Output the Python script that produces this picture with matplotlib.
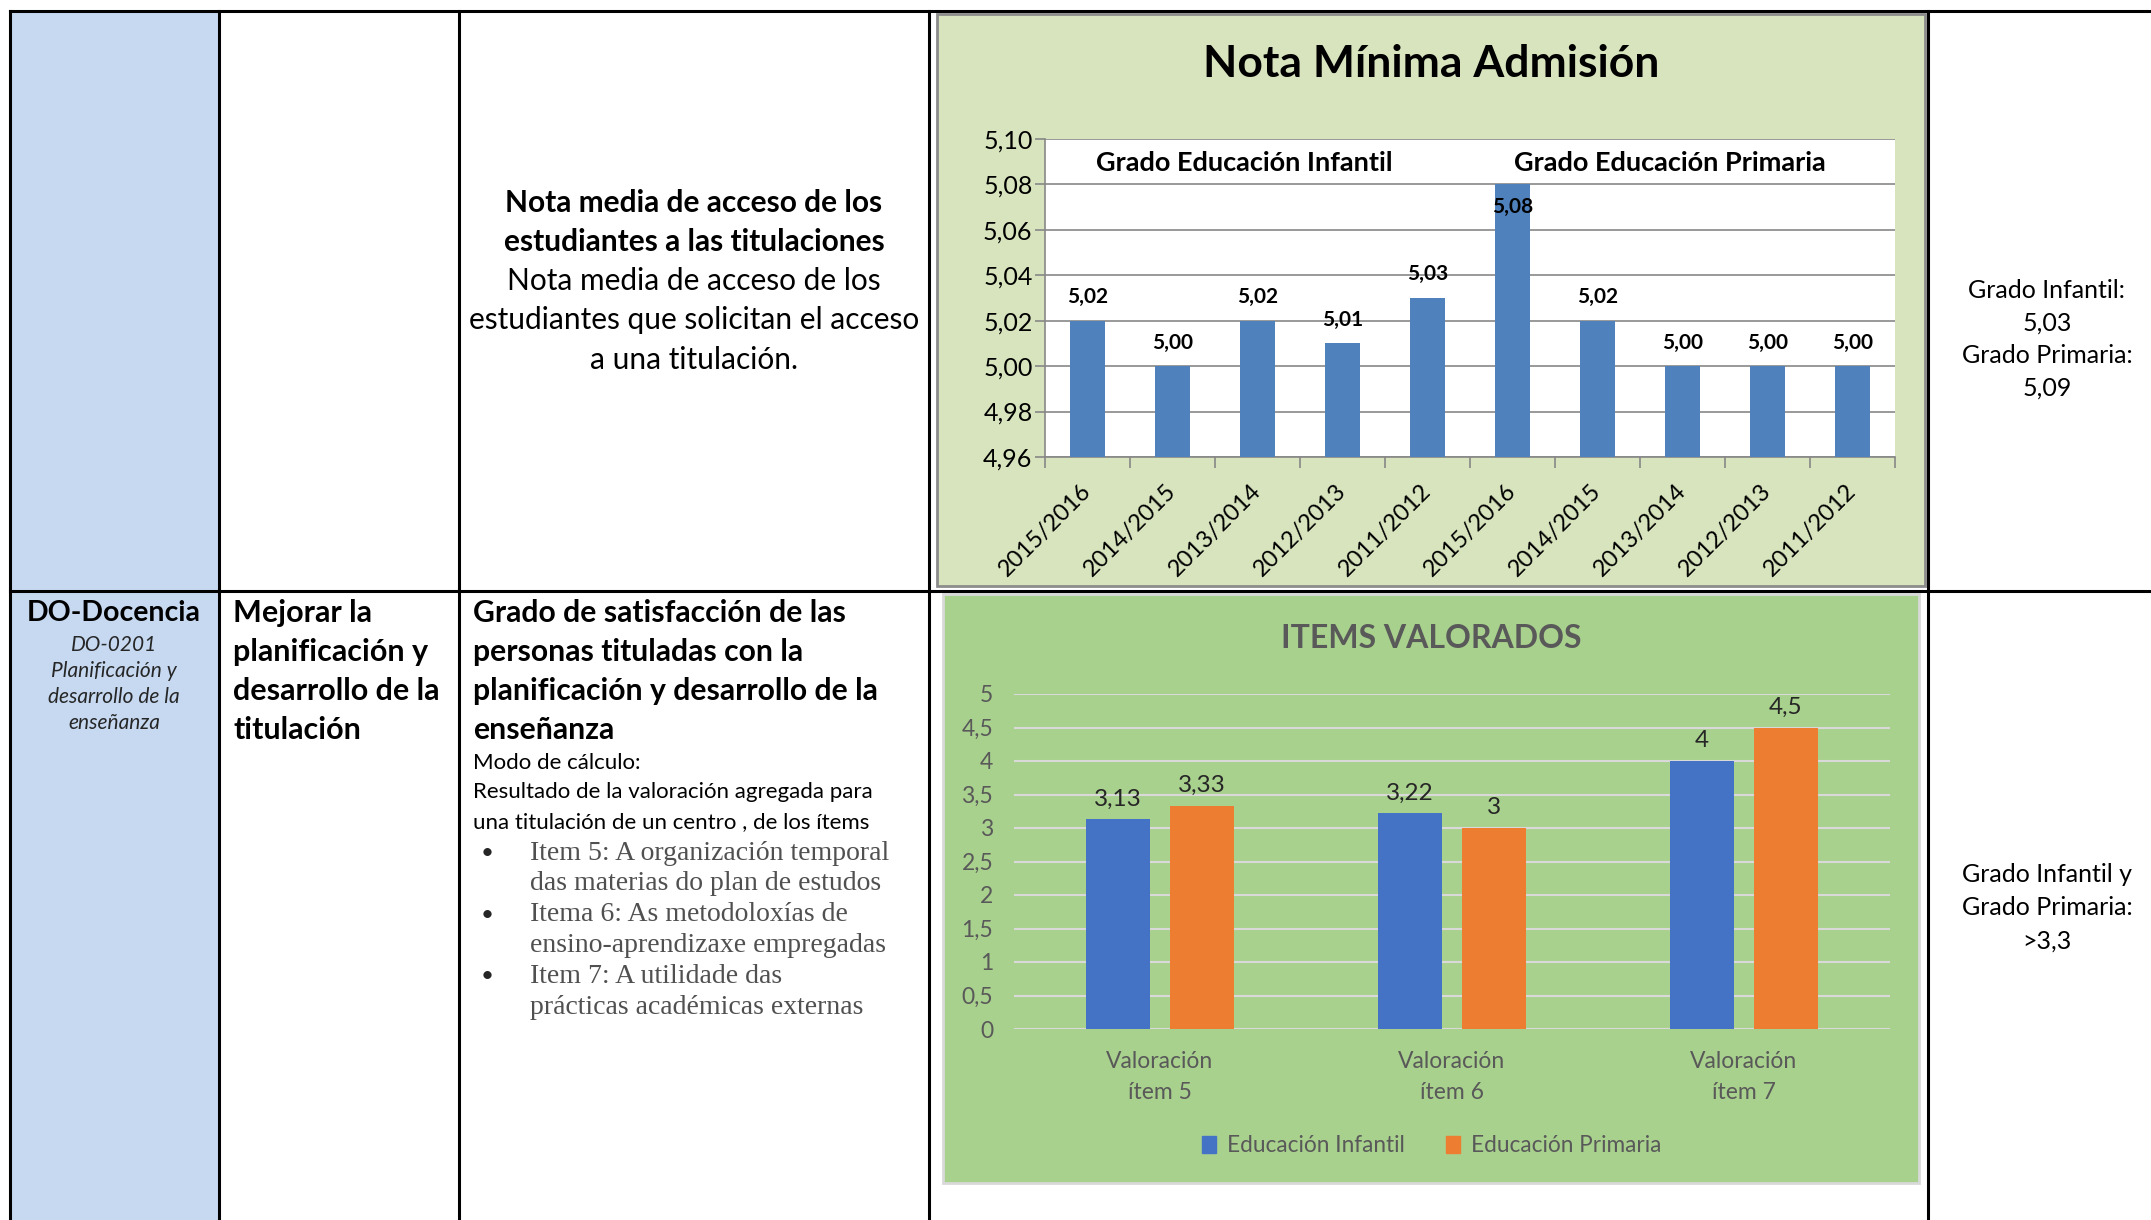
import numpy as np
import matplotlib
matplotlib.use('Agg')
import matplotlib.pyplot as plt
from matplotlib.patches import Rectangle, Patch
from matplotlib.ticker import FuncFormatter

plt.rcParams['font.family'] = ['Lato', 'DejaVu Sans']

# ==== datos ====
periodos = ['2015/2016', '2014/2015', '2013/2014', '2012/2013', '2011/2012',
            '2015/2016', '2014/2015', '2013/2014', '2012/2013', '2011/2012']
notas = [5.02, 5.00, 5.02, 5.01, 5.03, 5.08, 5.02, 5.00, 5.00, 5.00]
grupos = ['Grado Educación Infantil', 'Grado Educación Primaria']

items = ['Valoración\nítem 5', 'Valoración\nítem 6', 'Valoración\nítem 7']
infantil = [3.13, 3.22, 4]
primaria = [3.33, 3, 4.5]
series = ['Educación Infantil', 'Educación Primaria']

W, H = 2151, 1220
fig = plt.figure(figsize=(W / 100, H / 100), dpi=100)


def box(x0, y0, x1, y1):
    # pixeles (origen arriba-izquierda) -> fraccion de figura
    return [x0 / W, 1 - y1 / H, (x1 - x0) / W, (y1 - y0) / H]


def coma(v, fmt):
    return format(v, fmt).replace('.', ',')


# ---- tabla de fondo ----
bg = fig.add_axes([0, 0, 1, 1])
bg.set_xlim(0, W)
bg.set_ylim(H, 0)
bg.axis('off')


def lineas(x, y0, dy, textos, **kw):
    for i, t in enumerate(textos):
        bg.text(x, y0 + i * dy, t, va='center', **kw)


bg.add_patch(Rectangle((10, 11), 209, H - 11, color='#C6D9F1', zorder=0))
for yy in [11, 591]:
    bg.plot([10, W], [yy, yy], color='black', lw=2.2, zorder=5)
for xx in [10, 219, 459, 929, 1928]:
    bg.plot([xx, xx], [11, H], color='black', lw=2.2, zorder=5)

# cajas de los graficos
bg.add_patch(Rectangle((937, 14), 988, 572, facecolor='#D7E4BD',
                       edgecolor='#8C8C8C', lw=2, zorder=1))
bg.add_patch(Rectangle((943, 594), 976, 589, facecolor='#A9D18E',
                       edgecolor='#D9D9D9', lw=2, zorder=1))

# textos fila 1
lineas(694, 203, 39, ['Nota media de acceso de los',
                      'estudiantes a las titulaciones'],
       ha='center', fontsize=21.5, fontweight='bold')
lineas(694, 281, 39.3, ['Nota media de acceso de los',
                        'estudiantes que solicitan el acceso',
                        'a una titulación.'],
       ha='center', fontsize=21.5)
lineas(2047, 291, 32.4, ['Grado Infantil:', '5,03', 'Grado Primaria:', '5,09'],
       ha='center', fontsize=18)

# textos fila 2
bg.text(114, 613, 'DO-Docencia', ha='center', va='center', fontsize=20.5,
        fontweight='bold')
lineas(114, 645, 26, ['DO-0201', 'Planificación y', 'desarrollo de la',
                      'enseñanza'],
       ha='center', fontsize=15, style='italic', color='#262626')
lineas(233, 613, 39, ['Mejorar la', 'planificación y', 'desarrollo de la',
                      'titulación'],
       ha='left', fontsize=22, fontweight='bold')
lineas(473, 613, 39, ['Grado de satisfacción de las', 'personas tituladas con la',
                      'planificación y desarrollo de la', 'enseñanza'],
       ha='left', fontsize=21.7, fontweight='bold')
lineas(473, 763, 29.5, ['Modo de cálculo:',
                        'Resultado de la valoración agregada para',
                        'una titulación de un centro , de los ítems'],
       ha='left', fontsize=16)
bullets = ['Item 5: A organización temporal', 'das materias do plan de estudos',
           'Itema 6: As metodoloxías de', 'ensino-aprendizaxe empregadas',
           'Item 7: A utilidade das', 'prácticas académicas externas']
lineas(530, 853, 30.8, bullets, ha='left', fontsize=20,
       family=['Liberation Serif', 'DejaVu Serif'], color='#505050')
lineas(487, 853, 61.6, ['•', '•', '•'], ha='center', fontsize=16,
       color='#262626')
lineas(2047, 874, 33.5, ['Grado Infantil y', 'Grado Primaria:', '>3,3'],
       ha='center', fontsize=18)

# ---- grafico 1: Nota Minima Admision ----
bg.text(1431, 64, 'Nota Mínima Admisión', ha='center', va='center',
        fontsize=32, fontweight='bold', zorder=6)
ax1 = fig.add_axes(box(1045, 139, 1895, 457))
x = np.arange(len(notas))
ax1.bar(x, notas, width=0.42, color='#4F81BD', zorder=3)
ax1.set_xlim(-0.5, len(notas) - 0.5)
ax1.set_ylim(4.96, 5.10)
ax1.set_yticks(np.arange(4.96, 5.1001, 0.02))
ax1.yaxis.set_major_formatter(FuncFormatter(lambda v, p: coma(v, '.2f')))
ax1.set_xticks(np.arange(-0.5, len(notas), 1))
ax1.set_xticklabels([])
ax1.set_xticks(x, minor=True)
ax1.set_xticklabels(periodos, minor=True, rotation=45, ha='right',
                    va='center', rotation_mode='anchor', fontsize=17)
ax1.tick_params(axis='x', which='minor', length=0, pad=22)
ax1.tick_params(axis='x', which='major', length=8, color='#878787', width=1.2)
ax1.tick_params(axis='y', length=7, color='#878787', width=1.2,
                labelsize=18, pad=2)
ax1.yaxis.grid(True, color='#878787', lw=1.2, zorder=0)
ax1.set_axisbelow(True)
for s in ['top', 'right']:
    ax1.spines[s].set_visible(False)
for s in ['left', 'bottom']:
    ax1.spines[s].set_color('#878787')
    ax1.spines[s].set_linewidth(1.2)
for xi, v in zip(x, notas):
    # si no cabe encima, la etiqueta va dentro de la barra
    dy = -16 if v > 5.10 - 0.025 else 17
    ax1.annotate(coma(v, '.2f'), (xi, v), xytext=(0, dy),
                 textcoords='offset points', ha='center', va='center',
                 fontsize=15, fontweight='bold', zorder=4)
for gx, g in zip([1.85, 6.85], grupos):
    ax1.text(gx, 0.925, g, transform=ax1.get_xaxis_transform(), ha='center',
             va='center', fontsize=19.5, fontweight='bold')

# ---- grafico 2: ITEMS VALORADOS ----
bg.text(1431, 639, 'ITEMS VALORADOS', ha='center', va='center', fontsize=23,
        fontweight='bold', color='#595959', zorder=6)
ax2 = fig.add_axes(box(1014, 694, 1890, 1029))
ax2.patch.set_visible(False)
xi = np.arange(len(items))
ax2.bar(xi - 0.1435, infantil, width=0.221, color='#4472C4', zorder=3)
ax2.bar(xi + 0.1435, primaria, width=0.221, color='#ED7D31', zorder=3)
ax2.set_xlim(-0.5, len(items) - 0.5)
ax2.set_ylim(0, 5)
ax2.set_yticks(np.arange(0, 5.01, 0.5))
ax2.yaxis.set_major_formatter(FuncFormatter(lambda v, p: coma(v, 'g')))
ax2.set_xticks(xi)
ax2.set_xticklabels(items, fontsize=16.5, color='#595959', linespacing=1.55)
ax2.tick_params(axis='x', length=0, pad=16)
ax2.tick_params(axis='y', length=0, labelsize=16.5, labelcolor='#595959',
                pad=15)
ax2.yaxis.grid(True, color='#D9D9D9', lw=1.5, zorder=0)
ax2.set_axisbelow(True)
for s in ax2.spines.values():
    s.set_visible(False)
for off, vals in [(-0.1435, infantil), (0.1435, primaria)]:
    for xx, v in zip(xi + off, vals):
        ax2.annotate(coma(v, 'g'), (xx, v), xytext=(0, 7),
                     textcoords='offset points', ha='center', va='bottom',
                     fontsize=17.5, color='#262626')
handles = [Patch(color='#4472C4'), Patch(color='#ED7D31')]
ax2.legend(handles, series, loc='center', bbox_to_anchor=(0.477, -0.349),
           ncol=2, frameon=False, fontsize=16.3, labelcolor='#595959',
           handlelength=0.6, handleheight=0.8, handletextpad=0.5,
           columnspacing=1.8)

fig.savefig('out.png', dpi=100)
